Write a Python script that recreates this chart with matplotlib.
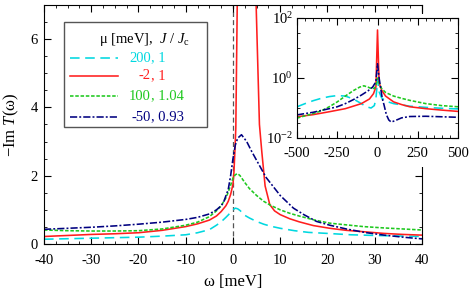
import matplotlib
matplotlib.use('Agg')
import matplotlib.pyplot as plt
from matplotlib.patches import Rectangle
from matplotlib.lines import Line2D
from matplotlib.ticker import MultipleLocator, FixedLocator, NullFormatter

plt.rcParams['font.family'] = ['Liberation Serif', 'DejaVu Serif']
plt.rcParams['mathtext.fontset'] = 'custom'
plt.rcParams['mathtext.rm'] = 'Liberation Serif'
plt.rcParams['mathtext.it'] = 'Liberation Serif:italic'

# ---- main panel data (omega in meV, -Im T) ----
w_cyan = [-40, -30, -20, -15, -10, -7.5, -5, -3.5, -2.5, -1.5, -1, -0.5, 0, 0.5, 1, 1.5,
          2.5, 3.5, 5, 6.5, 8, 10, 13, 16, 20, 25, 30, 35, 40]
v_cyan = [0.14, 0.17, 0.20, 0.23, 0.27, 0.33, 0.42, 0.55, 0.65, 0.78, 0.85, 0.93, 1.0, 1.05, 1.03, 0.98,
          0.84, 0.76, 0.66, 0.58, 0.52, 0.46, 0.39, 0.34, 0.31, 0.27, 0.25, 0.235, 0.22]

w_red = [-40, -35, -30, -25, -20, -15, -10, -7.5, -5, -3.5, -2.5, -1.5, -1, -0.5, 0, 0.2, 0.4, 0.6,
         0.9, 1.5, 2.8, 3.8, 4.9, 5.6, 6.1, 6.8, 7.8, 8.8, 10, 12, 14, 17, 20.5, 24, 27.6, 32, 36, 40]
v_red = [0.22, 0.25, 0.28, 0.30, 0.33, 0.40, 0.51, 0.59, 0.70, 0.82, 0.95, 1.12, 1.25, 1.45, 1.75, 2.1, 2.7, 3.4,
         7.0, 20.0, 40.0, 20.0, 7.0, 3.5, 2.7, 1.7, 1.15, 0.97, 0.86, 0.74, 0.65, 0.54, 0.46, 0.40, 0.36, 0.31, 0.28, 0.26]

w_green = [-40, -35, -30, -25, -20, -15, -10, -7.5, -5, -3.5, -2.5, -1.5, -1, -0.5, 0, 0.5, 1, 1.5,
           2.5, 3.5, 5, 6.5, 8, 10, 12, 14, 17, 20.5, 24, 27.6, 32, 36, 40]
v_green = [0.41, 0.39, 0.38, 0.38, 0.39, 0.44, 0.55, 0.64, 0.80, 0.97, 1.12, 1.35, 1.52, 1.72, 1.93, 2.03, 2.06, 2.0,
           1.8, 1.62, 1.42, 1.25, 1.13, 1.0, 0.9, 0.82, 0.71, 0.61, 0.56, 0.51, 0.47, 0.44, 0.41]

w_blue = [-40, -35, -30, -25, -20, -15, -10, -7.5, -5, -3.5, -2.5, -2, -1, -0.5, 0, 0.5, 1, 1.8,
          2.9, 4, 5, 7, 10, 12.8, 15, 17.7, 20.5, 24, 28.3, 32, 36, 40]
v_blue = [0.43, 0.46, 0.49, 0.53, 0.58, 0.64, 0.72, 0.78, 0.88, 1.0, 1.12, 1.22, 1.6, 2.0, 2.5, 2.9, 3.1, 3.2,
          3.0, 2.7, 2.45, 1.95, 1.42, 1.05, 0.86, 0.66, 0.55, 0.44, 0.33, 0.26, 0.20, 0.15]

# ---- inset data (wide range, log scale) ----
wi_cyan = [-500, -450, -400, -350, -300, -250, -200, -150, -100, -70, -40, -20, -10, -5, 0, 5, 10, 25,
           50, 100, 200, 300, 400, 500]
vi_cyan = [0.11, 0.14, 0.175, 0.21, 0.24, 0.26, 0.25, 0.2, 0.14, 0.11, 0.1, 0.12, 0.2, 0.4, 0.9, 0.55, 0.35, 0.22,
           0.17, 0.14, 0.115, 0.105, 0.098, 0.093]

wi_red = [-500, -400, -300, -200, -100, -50, -25, -10, 0, 10, 25, 50, 100, 150, 200, 300, 400, 500]
vi_red = [0.051, 0.06, 0.075, 0.095, 0.14, 0.2, 0.3, 0.5, 40, 0.7, 0.4, 0.25, 0.16, 0.13, 0.11, 0.095, 0.085, 0.077]

wi_green = [-500, -450, -400, -350, -300, -250, -200, -150, -110, -85, -60, -40, -20, -10, 0, 10, 25, 50,
            100, 150, 200, 300, 400, 500]
vi_green = [0.046, 0.055, 0.065, 0.08, 0.11, 0.16, 0.25, 0.38, 0.5, 0.55, 0.5, 0.45, 0.45, 0.55, 1.0, 0.7, 0.45, 0.33,
            0.25, 0.21, 0.18, 0.14, 0.12, 0.11]

wi_blue = [-500, -400, -300, -250, -200, -150, -100, -60, -30, -10, 0, 10, 20, 30, 40, 55, 70, 85,
           110, 150, 200, 300, 400, 500]
vi_blue = [0.059, 0.072, 0.095, 0.11, 0.14, 0.19, 0.27, 0.37, 0.5, 0.75, 3.0, 1.0, 0.45, 0.2, 0.13, 0.06, 0.04, 0.034,
           0.038, 0.047, 0.052, 0.053, 0.051, 0.049]

# legend entries
mu_lbl = ['200', '-2', '100', '-50']
jc_lbl = ['1', '1', '1.04', '0.93']

c_cyan = '#00d8e0'
c_red = '#ff1e1e'
c_green = '#1ec81e'
c_blue = '#000080'
lw = 1.15
styles = [(c_cyan, (0, (6, 3.5))), (c_red, '-'), (c_green, (0, (2.2, 1.1))),
          (c_blue, (0, (4.5, 1.3, 1.2, 1.3)))]

fig = plt.figure(figsize=(4.71, 2.91), dpi=100)
ax = fig.add_axes([0.0934, 0.1615, 0.8025, 0.8215])

main_sets = [(w_cyan, v_cyan), (w_red, v_red), (w_green, v_green), (w_blue, v_blue)]
for (x, y), (col, ls) in zip(main_sets, styles):
    ax.plot(x, y, color=col, linestyle=ls, linewidth=lw)
ax.axvline(0, color='#555555', linestyle=(0, (4, 2.5)), linewidth=0.9, zorder=1)

ax.set_xlim(-40, 40)
ax.set_ylim(0, 7)
ax.xaxis.set_major_locator(MultipleLocator(10))
ax.xaxis.set_minor_locator(MultipleLocator(2.5))
ax.yaxis.set_major_locator(MultipleLocator(2))
ax.yaxis.set_minor_locator(MultipleLocator(0.5))
ax.tick_params(which='both', direction='in', top=True, right=True, labelsize=10.5)
ax.tick_params(which='major', length=5)
ax.tick_params(which='minor', length=2.5)
ax.tick_params(axis='x', pad=7.5)
ax.tick_params(axis='y', pad=4.5)
ax.set_xticklabels([f'{t:g}' for t in ax.get_xticks()])
ax.set_xlabel('ω [meV]', fontsize=12, labelpad=5)
ax.set_ylabel('−Im $T$(ω)', fontsize=12, labelpad=7)

# hand-built legend box (labels are aligned on the comma)
ax.add_patch(Rectangle((0.053, 0.491), 0.378, 0.439, transform=ax.transAxes,
                       facecolor='white', edgecolor='#555555', linewidth=1.0, zorder=5))
ax.text(0.265, 0.854, 'μ [meV],  $J$ / $J_{\\rm c}$', transform=ax.transAxes,
        ha='center', va='center', fontsize=10.5, zorder=6)
ys = [0.778, 0.703, 0.619, 0.531]
for yy, (col, ls), m, j in zip(ys, styles, mu_lbl, jc_lbl):
    ax.add_line(Line2D([0.069, 0.196], [yy, yy], transform=ax.transAxes, color=col,
                       linestyle=ls, linewidth=lw, zorder=6))
    ax.text(0.283, yy, m, transform=ax.transAxes, color=col, ha='right', va='center',
            fontsize=10.5, zorder=6)
    ax.text(0.283, yy, ', ' + j, transform=ax.transAxes, color=col, ha='left', va='center',
            fontsize=10.5, zorder=6)

# white area behind the inset (hides main frame there)
fig.add_artist(Rectangle((0.563, 0.426), 0.437, 0.526, transform=fig.transFigure,
                         facecolor='white', edgecolor='none', zorder=2))

axi = fig.add_axes([0.6306, 0.5258, 0.3418, 0.4122])
axi.set_zorder(3)
inset_sets = [(wi_cyan, vi_cyan), (wi_red, vi_red), (wi_green, vi_green), (wi_blue, vi_blue)]
for (x, y), (col, ls) in zip(inset_sets, styles):
    axi.plot(x, y, color=col, linestyle=ls, linewidth=lw)
axi.set_yscale('log')
axi.set_xlim(-500, 500)
axi.set_ylim(1e-2, 1e2)
axi.xaxis.set_major_locator(MultipleLocator(250))
axi.xaxis.set_minor_locator(MultipleLocator(50))
axi.yaxis.set_major_locator(FixedLocator([1e-2, 1, 1e2]))
axi.yaxis.set_minor_locator(FixedLocator([10 ** (k / 2) for k in range(-3, 4) if k % 4 != 0]))
axi.yaxis.set_minor_formatter(NullFormatter())
axi.set_yticklabels(['$10^{-2}$', '$10^{0}$', '$10^{2}$'])
axi.set_xticklabels([f'{t:g}' for t in axi.get_xticks()])
axi.tick_params(which='both', direction='in', top=True, right=True, labelsize=10.5)
axi.tick_params(axis='x', pad=6.5)
axi.tick_params(axis='y', pad=3)
axi.tick_params(which='major', length=5)
axi.tick_params(which='minor', length=2.5)

fig.savefig('out.png', dpi=100)
